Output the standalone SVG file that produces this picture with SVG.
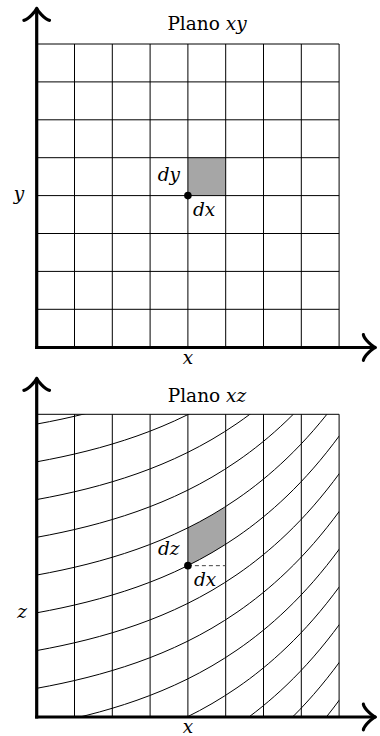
<svg xmlns="http://www.w3.org/2000/svg" xmlns:xlink="http://www.w3.org/1999/xlink" width="380" height="736" viewBox="0 0 380 736">
<style>
.g{stroke:#000;stroke-width:1;fill:none}
.ax{stroke:#000;stroke-width:3.2;fill:none}
.sh{fill:#a6a6a6;stroke:none}
.t{font-family:"DejaVu Serif","Liberation Serif",serif;font-size:18.5px;fill:#000}
.i{font-style:italic}
.dash{stroke:#444;stroke-width:1;stroke-dasharray:4 3;fill:none}
</style>
<defs>
<marker id="arr" markerUnits="userSpaceOnUse" markerWidth="40" markerHeight="40" refX="0" refY="0" orient="auto" overflow="visible" viewBox="-20 -20 40 40">
<path d="M-12,12.8 C-11.2,8 -2.4,0.8 0,0 C-2.4,-0.8 -11.2,-8 -12,-12.8" fill="none" stroke="#000" stroke-width="3.2" stroke-linecap="round" stroke-linejoin="round"/>
</marker>
<path id="cv" class="g" d="M37,424 C53.67,420.98 70.33,417.46 87,413.24 C103.67,409.02 120.33,404.11 137,398.22 C153.67,392.34 170.33,385.48 187,377.26 C203.67,369.05 220.33,359.48 237,348.01 C253.67,336.55 270.33,323.19 287,307.19 C304.67,290.23 322.33,270.31 340,246.16"/>
<clipPath id="clipxz"><rect x="36.7" y="414.3" width="302.4" height="302.7"/></clipPath>
</defs>

<g id="plot-xy">
<g id="cell-xy"><rect class="sh" x="187.9" y="157.7" width="37.8" height="37.9"/></g>
<g id="grid-xy">
<path class="g" d="M74.5,44V347.5M112.3,44V347.5M150.1,44V347.5M187.9,44V347.5M225.7,44V347.5M263.5,44V347.5M301.3,44V347.5M339.1,44V347.5"/>
<path class="g" d="M36.7,44H339.1M36.7,81.9H339.1M36.7,119.8H339.1M36.7,157.7H339.1M36.7,195.6H339.1M36.7,233.5H339.1M36.7,271.4H339.1M36.7,309.3H339.1"/>
</g>
<g id="point-xy"><circle cx="187.9" cy="195.6" r="3.8" fill="#000"/></g>
<g id="labels-xy">
<text class="t" x="207" y="30" text-anchor="middle">Plano <tspan class="i">xy</tspan></text>
<text class="t i" x="19" y="200" text-anchor="middle">y</text>
<text class="t i" x="187.9" y="364" text-anchor="middle">x</text>
<text class="t i" x="180" y="181" text-anchor="end">dy</text>
<text class="t i" x="193" y="216">dx</text>
</g>
</g>

<g id="plot-xz">
<g id="cell-xz"><path class="sh" d="M187.9,565.67 C200.4,559.43 213,552.41 225.7,544.38 L225.7,506.63 C213,514.66 200.4,521.68 187.9,527.92 Z"/></g>
<g id="grid-xz">
<path class="g" d="M74.5,414.3V717M112.3,414.3V717M150.1,414.3V717M187.9,414.3V717M225.7,414.3V717M263.5,414.3V717M301.3,414.3V717M339.1,414.3V717M36.7,414.3H339.1"/>
<g clip-path="url(#clipxz)">
<use xlink:href="#cv"/>
<use xlink:href="#cv" y="37.75"/>
<use xlink:href="#cv" y="75.5"/>
<use xlink:href="#cv" y="113.25"/>
<use xlink:href="#cv" y="151"/>
<use xlink:href="#cv" y="188.75"/>
<use xlink:href="#cv" y="226.5"/>
<use xlink:href="#cv" y="264.25"/>
<use xlink:href="#cv" y="302"/>
<use xlink:href="#cv" y="339.75"/>
<use xlink:href="#cv" y="377.5"/>
<use xlink:href="#cv" y="415.25"/>
<use xlink:href="#cv" y="453"/>
</g>
<path class="dash" d="M187.9,565.67H225.7"/>
</g>
<g id="point-xz"><circle cx="187.9" cy="565.67" r="3.8" fill="#000"/></g>
<g id="labels-xz">
<text class="t" x="207" y="402" text-anchor="middle">Plano <tspan class="i">xz</tspan></text>
<text class="t i" x="22" y="618" text-anchor="middle">z</text>
<text class="t i" x="187.9" y="733" text-anchor="middle">x</text>
<text class="t i" x="179.5" y="555" text-anchor="end">dz</text>
<text class="t i" x="194" y="586">dx</text>
</g>
</g>

<g id="connectors">
<path class="ax" d="M36.7,349.1V8.3" marker-end="url(#arr)"/>
<path class="ax" d="M35.1,347.5H375.4" marker-end="url(#arr)"/>
<path class="ax" d="M36.7,718.6V378.3" marker-end="url(#arr)"/>
<path class="ax" d="M35.1,717H375.4" marker-end="url(#arr)"/>
</g>
</svg>
